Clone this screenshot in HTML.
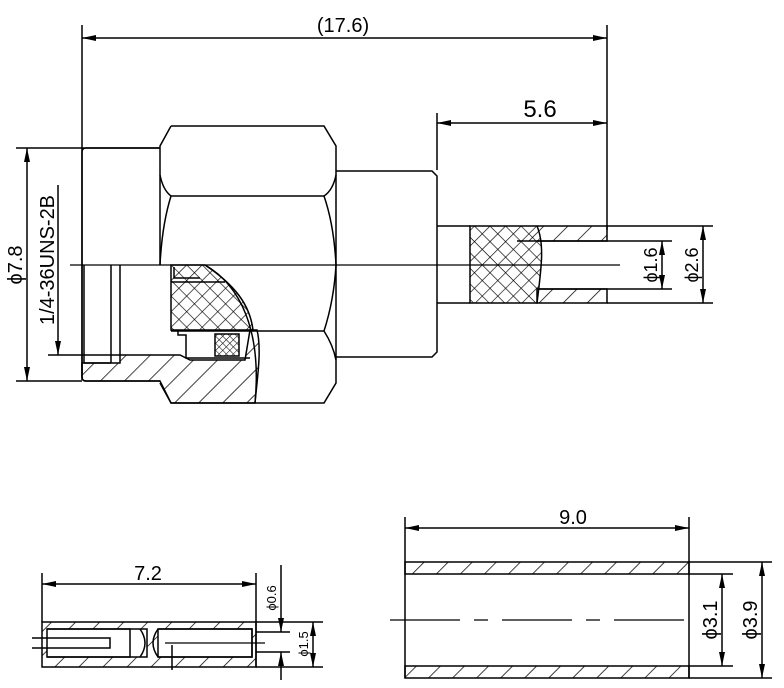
<!DOCTYPE html>
<html><head><meta charset="utf-8"><style>
html,body{margin:0;padding:0;background:#fff;}
svg{display:block;}
text{font-family:"Liberation Sans",sans-serif;fill:#000;}
</style></head><body>
<svg width="784" height="688" viewBox="0 0 784 688" xmlns="http://www.w3.org/2000/svg">
<defs>
<pattern id="h" width="17" height="17" patternUnits="userSpaceOnUse" patternTransform="rotate(45)"><line x1="0" y1="0" x2="0" y2="17" stroke="#000" stroke-width="1.5"/></pattern>
<pattern id="x" width="11" height="11" patternUnits="userSpaceOnUse" patternTransform="rotate(45)"><line x1="0" y1="0" x2="0" y2="11" stroke="#000" stroke-width="1.3"/><line x1="0" y1="0" x2="11" y2="0" stroke="#000" stroke-width="1.3"/></pattern>
<pattern id="xs" width="5" height="5" patternUnits="userSpaceOnUse" patternTransform="rotate(45)"><line x1="0" y1="0" x2="0" y2="5" stroke="#000" stroke-width="1"/><line x1="0" y1="0" x2="5" y2="0" stroke="#000" stroke-width="1"/></pattern>
<marker id="a" viewBox="0 0 14 6" refX="14" refY="3" markerWidth="14" markerHeight="6" markerUnits="userSpaceOnUse" orient="auto-start-reverse"><path d="M0,0 L14,3 L0,6 Z" fill="#000"/></marker>
</defs>
<g stroke="#000" stroke-width="1.5" fill="none">
<line x1="82" y1="25" x2="82" y2="380"/>
<line x1="607" y1="25" x2="607" y2="230"/>
<line x1="82" y1="38" x2="607" y2="38" marker-start="url(#a)" marker-end="url(#a)"/>
<line x1="437" y1="113" x2="437" y2="170"/>
<line x1="437" y1="123" x2="607" y2="123" marker-start="url(#a)" marker-end="url(#a)"/>
<line x1="16" y1="148" x2="160" y2="148"/>
<line x1="16" y1="381" x2="82" y2="381"/>
<line x1="27" y1="148" x2="27" y2="381" marker-start="url(#a)" marker-end="url(#a)"/>
<line x1="48" y1="355" x2="120" y2="355"/>
<line x1="58" y1="185" x2="58" y2="355" marker-end="url(#a)"/>
<path d="M82,363 L120,363 L120,355 L180,355 L190,360 L245,360 L250,330 L257,330 C262,350 257,380 255,403 L171,403 L160,381 L86,381 Q82,381 82,377 Z" fill="url(#h)"/>
<path d="M86,148 L160,148 M86,148 Q82,148 82,152 L82,377 Q82,381 86,381 L160,381"/>
<path d="M84,265 L84,363 M111,265 L111,363 M84,363 L111,363 M120,265 L120,355"/>
<path d="M171,126 L324,126 L336,146 L336,383 L324,403 L171,403 L160,383 M171,126 L160,146 L160,265"/>
<path d="M171,196 L324,196 M171,331 L324,331"/>
<path d="M160,175 Q163,190 171,196 M336,175 Q333,190 324,196 M171,196 Q162,225 160,265 M324,196 Q334,225 336,265 M324,331 Q334,300 336,265 M324,331 Q333,345 336,360"/>
<path d="M171,265 L205,265 C235,285 250,305 253,330 L171,330 Z" fill="url(#x)"/>
<path d="M174,267 L174,278 L200,278 M171,282 L225,282"/>
<path d="M178,330 L178,335 L186,335 L186,358 L250,358"/>
<rect x="215" y="334" width="24" height="22" fill="url(#xs)"/>
<path d="M205,265 C240,285 262,330 255,403"/>
<path d="M336,171 L432,171 L437,176 L437,352 L432,357 L336,357"/>
<line x1="70" y1="265" x2="620" y2="265" stroke-width="1.2"/>
<path d="M437,226 L470,226 M437,303 L470,303"/>
<path d="M470,226 L537,226 C545,245 541,270 537,303 L470,303 Z" fill="url(#x)"/>
<path d="M537,226 L607,226 L607,241 L517,241 M537,303 L607,303 L607,289 L537,289 Z" fill="url(#h)"/>
<line x1="607" y1="226" x2="713" y2="226"/>
<line x1="607" y1="303" x2="713" y2="303"/>
<line x1="537" y1="241" x2="672" y2="241"/>
<line x1="537" y1="289" x2="672" y2="289"/>
<line x1="662" y1="241" x2="662" y2="289" marker-start="url(#a)" marker-end="url(#a)"/>
<line x1="703" y1="226" x2="703" y2="303" marker-start="url(#a)" marker-end="url(#a)"/>
<line x1="42" y1="573" x2="42" y2="622"/>
<line x1="256" y1="573" x2="256" y2="667"/>
<line x1="42" y1="584" x2="256" y2="584" marker-start="url(#a)" marker-end="url(#a)"/>
<path d="M42,622 L256,622 L256,667 L42,667 Z" fill="url(#h)"/>
<rect x="47" y="629" width="100" height="28" fill="#fff"/>
<rect x="158" y="629" width="94" height="28" fill="#fff"/>
<path d="M47,629 L130,629 L130,657 L47,657 M158,629 L252,629 L252,657 L158,657 M32,638 L110,638 L110,648 L32,648 M140,629 Q150,643 140,657 M158,629 Q148,643 158,657"/>
<line x1="165" y1="643" x2="265" y2="643" stroke-width="1.2"/>
<line x1="172" y1="645" x2="172" y2="670"/>
<line x1="256" y1="622" x2="323" y2="622"/>
<line x1="256" y1="667" x2="323" y2="667"/>
<line x1="256" y1="632" x2="290" y2="632"/>
<line x1="256" y1="652" x2="290" y2="652"/>
<line x1="281" y1="565" x2="281" y2="632" marker-end="url(#a)"/>
<line x1="281" y1="652" x2="281" y2="680" marker-start="url(#a)"/>
<line x1="313" y1="622" x2="313" y2="667" marker-start="url(#a)" marker-end="url(#a)"/>
<line x1="405" y1="517" x2="405" y2="678"/>
<line x1="689" y1="517" x2="689" y2="678"/>
<line x1="405" y1="528" x2="689" y2="528" marker-start="url(#a)" marker-end="url(#a)"/>
<rect x="405" y="562" width="284" height="12" fill="url(#h)"/>
<rect x="405" y="666" width="284" height="12" fill="url(#h)"/>
<line x1="689" y1="562" x2="772" y2="562"/>
<line x1="689" y1="678" x2="772" y2="678"/>
<line x1="689" y1="574" x2="733" y2="574"/>
<line x1="689" y1="666" x2="733" y2="666"/>
<line x1="390" y1="620" x2="689" y2="620" stroke-dasharray="70,14,14,14" stroke-width="1.2"/>
<line x1="722" y1="574" x2="722" y2="666" marker-start="url(#a)" marker-end="url(#a)"/>
<line x1="762" y1="562" x2="762" y2="678" marker-start="url(#a)" marker-end="url(#a)"/>
</g>
<g font-size="20">
<text x="343" y="32" text-anchor="middle">(17.6)</text>
<text x="540" y="117" text-anchor="middle" font-size="24">5.6</text>
<text x="148" y="580" text-anchor="middle">7.2</text>
<text x="573" y="524" text-anchor="middle">9.0</text>
<text transform="translate(22,265) rotate(-90)" text-anchor="middle">ϕ7.8</text>
<text transform="translate(54,260) rotate(-90)" text-anchor="middle">1/4-36UNS-2B</text>
<text transform="translate(657,265) rotate(-90)" text-anchor="middle" font-size="18">ϕ1.6</text>
<text transform="translate(698,265) rotate(-90)" text-anchor="middle" font-size="18">ϕ2.6</text>
<text transform="translate(276,598) rotate(-90)" text-anchor="middle" font-size="13">ϕ0.6</text>
<text transform="translate(308,644) rotate(-90)" text-anchor="middle" font-size="13">ϕ1.5</text>
<text transform="translate(717,620) rotate(-90)" text-anchor="middle">ϕ3.1</text>
<text transform="translate(757,620) rotate(-90)" text-anchor="middle">ϕ3.9</text>
</g>
</svg>
</body></html>
